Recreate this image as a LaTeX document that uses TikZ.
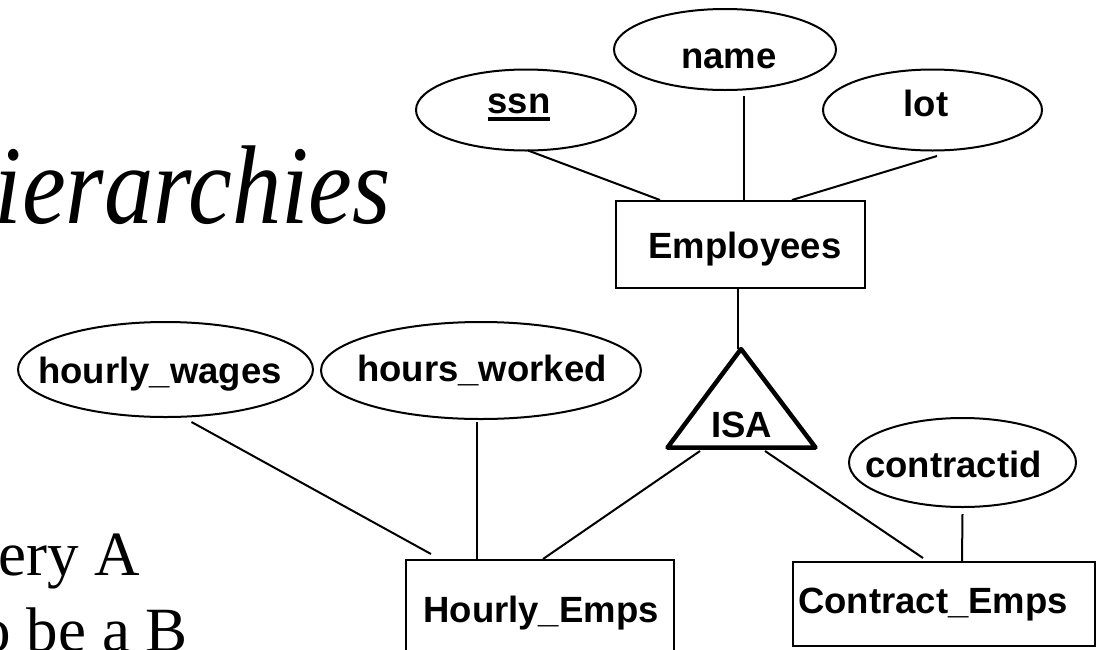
\documentclass[tikz,border=0pt]{standalone}
\usepackage{fontspec}
\usepackage{graphicx}
\newfontfamily\erfont{Liberation Sans}
\newfontfamily\slidefont{Liberation Serif}
\usetikzlibrary{shapes.geometric,calc}
\newcommand\ulin[1]{\setbox0\hbox{#1}\rlap{\rule[-7.4pt]{\wd0}{4pt}}\box0}
\tikzset{
  erfnt/.style={font=\erfont\bfseries\fontsize{36.5pt}{40pt}\selectfont},
  attr/.style={draw, ellipse, line width=2pt, inner sep=0pt},
  ent/.style={draw, rectangle, line width=2pt, inner sep=0pt},
  lbl/.style={erfnt, inner sep=0pt, anchor=base},
  conn/.style={line width=2pt},
  isaline/.style={line width=4.5pt, line join=round},
  slide/.style={inner sep=0pt, anchor=base east}
}
\begin{document}
\begin{tikzpicture}[x=1pt,y=-1pt]
\useasboundingbox (0,0) rectangle (1101,649);
\clip (0,0) rectangle (1101,649);
\fill[white] (0,0) rectangle (1101,649);

% slide text (partly off the page)
\node[slide, font=\slidefont\itshape\fontsize{112pt}{134pt}\selectfont] (title) at (391,223) {\scalebox{0.88}[1]{ierarchies}};
\node[slide, font=\slidefont\fontsize{63pt}{76pt}\selectfont] (l1) at (140,575) {ery A};
\node[slide, font=\slidefont\fontsize{63pt}{76pt}\selectfont] (l2) at (188,651) {o be a B};

% attributes
\node[attr, minimum width=220pt, minimum height=81pt] (ssn) at (526,110) {};
\node[attr, minimum width=222pt, minimum height=81pt] (name) at (725,49.5) {};
\node[attr, minimum width=219pt, minimum height=81pt] (lot) at (932.5,110) {};
\node[attr, minimum width=295pt, minimum height=95pt] (hw) at (165.5,369.5) {};
\node[attr, minimum width=320pt, minimum height=97pt] (hrs) at (481,370.5) {};
\node[attr, minimum width=227pt, minimum height=89pt] (cid) at (962.5,462.5) {};
\node[lbl] (ssnT) at ($(ssn.center)+(-7,3.3)$) {\ulin{ssn}};
\node[lbl] (nameT) at ($(name.center)+(4,18.5)$) {name};
\node[lbl] (lotT) at ($(lot.center)+(-6.5,6)$) {lot};
\node[lbl] (hwT) at ($(hw.center)+(-5.5,13.5)$) {hourly\_wages};
\node[lbl] (hrsT) at ($(hrs.center)+(1,10.5)$) {hours\_worked};
\node[lbl] (cidT) at ($(cid.center)+(-9,14.5)$) {contractid};

% entities
\node[ent, minimum width=249pt, minimum height=87pt] (emp) at (740.5,244.5) {};
\node[ent, minimum width=268pt, minimum height=104pt] (he) at (540,612) {};
\node[ent, minimum width=302pt, minimum height=84pt] (ce) at (944,604) {};
\node[lbl] (empT) at ($(emp.center)+(4.5,13.8)$) {Employees};
\node[lbl] (heT) at ($(he.center)+(1,10)$) {Hourly\_Emps};
\node[lbl] (ceT) at ($(ce.center)+(-11,9.3)$) {Contract\_Emps};

% ISA triangle
\coordinate (isatop) at (741,349);
\coordinate (isaL) at (667.5,447.5);
\coordinate (isaR) at (815.5,447.5);
\draw[isaline] (isatop) -- (isaL) -- (isaR) -- cycle;
\node[lbl] (isa) at (741.5,437) {ISA};
\coordinate (isaBL) at (700,451);
\coordinate (isaBR) at (765,451);

% connectors
\draw[conn] ($(ssn.south)+(2,-1)$) -- ($(emp.north west)+(45,0)$);
\draw[conn] ($(name.south)+(19,5)$) -- ($(emp.north west)+(129,0)$);
\draw[conn] ($(lot.south)+(4.5,4.5)$) -- ($(emp.north west)+(177,0)$);
\draw[conn] ($(emp.south)+(-2.5,0)$) -- ($(isatop)+(-3,0)$);
\draw[conn] ($(hw.south)+(26,4)$) -- ($(he.north west)+(26,-5)$);
\draw[conn] ($(hrs.south)+(-4,2)$) -- ($(he.north west)+(72,0)$);
\draw[conn] (isaBL) -- ($(he.north west)+(138,0)$);
\draw[conn] (isaBR) -- ($(ce.north west)+(131,-3)$);
\draw[conn] ($(cid.south)+(0,6)$) -- ($(ce.north west)+(170,0)$);
\end{tikzpicture}
\end{document}
